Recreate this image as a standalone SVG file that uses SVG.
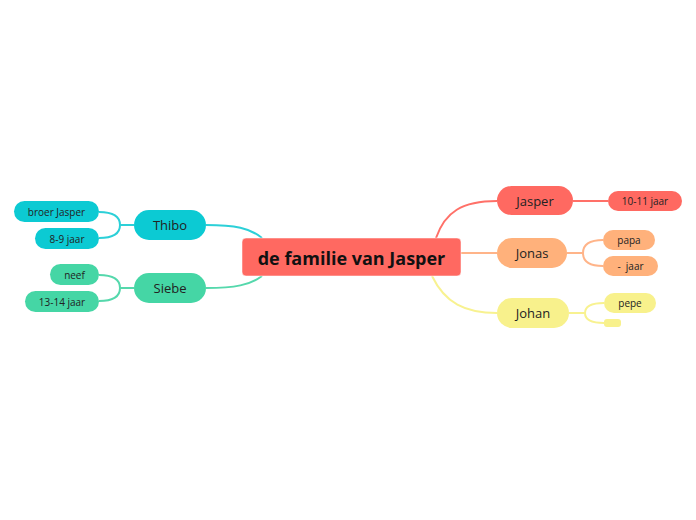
<svg xmlns="http://www.w3.org/2000/svg" width="696" height="520" viewBox="0 0 696 520">
<style>
text{font-family:"Open Sans","Liberation Sans",sans-serif;text-anchor:middle;dominant-baseline:central;fill:#222}
.main{font-size:18px;font-weight:bold;fill:#111}
.l1{font-size:13px}
.l2{font-size:10px}
.c path{fill:none;stroke-width:2}
.red{fill:#FF6961}.cyan{fill:#0CCAD3}.green{fill:#45D6A5}.orange{fill:#FFB17B}.yellow{fill:#F8F18C}
</style>
<rect width="696" height="520" fill="#fff"/>
<g class="c" id="connectors">
<path d="M206,225 C235,225 250,228 262,238" stroke="#2CD0D8"/>
<path d="M206,288 C235,288 250,285 262,276" stroke="#55D8AC"/>
<path d="M134,225 L120,225 M99,212 C114,212 120,217 120,225 C120,233 114,238 99,238" stroke="#2CD0D8" stroke-width="1.5"/>
<path d="M134,288 L120,288 M99,275 C114,275 120,280 120,288 C120,296 114,301 99,301" stroke="#55D8AC" stroke-width="1.5"/>
<path d="M436,238 C445,212 462,201 497,201" stroke="#FF7068"/>
<path d="M461,253 L497,253" stroke="#FFB489"/>
<path d="M432,276 C445,303 465,313 497,313" stroke="#F8F290"/>
<path d="M573,201 L608,201" stroke="#FF7068" stroke-width="1.5"/>
<path d="M567,253 L583,253 M603,240 C588,240 583,245 583,253 C583,261 588,266 603,266" stroke="#FFB489" stroke-width="1.5"/>
<path d="M569,313 L585,313 M604,303 C590,303 585,307 585,313 C585,319 590,323 604,323" stroke="#F8F290" stroke-width="1.5"/>
</g>
<g id="center"><rect x="242" y="238" width="219" height="38" rx="4" class="red" stroke="#fff" stroke-opacity="0.5"/><text x="351.5" y="257.5" class="main">de familie van Jasper</text></g>
<g id="thibo"><rect x="134" y="210" width="72" height="30" rx="15" class="cyan"/><text x="170" y="225" class="l1">Thibo</text></g>
<g id="broer"><rect x="14" y="201" width="85" height="21" rx="10.5" class="cyan"/><text x="56.5" y="211.5" class="l2">broer Jasper</text></g>
<g id="thibo-age"><rect x="35" y="228" width="64" height="21" rx="10.5" class="cyan"/><text x="67" y="238.5" class="l2">8-9 jaar</text></g>
<g id="siebe"><rect x="134" y="273" width="72" height="30" rx="15" class="green"/><text x="170" y="288" class="l1">Siebe</text></g>
<g id="neef"><rect x="50" y="264" width="49" height="21" rx="10.5" class="green"/><text x="74.5" y="274.5" class="l2">neef</text></g>
<g id="siebe-age"><rect x="25" y="291" width="74" height="21" rx="10.5" class="green"/><text x="62" y="301.5" class="l2">13-14 jaar</text></g>
<g id="jasper"><rect x="497" y="186" width="76" height="29" rx="14.5" class="red"/><text x="535" y="200.5" class="l1">Jasper</text></g>
<g id="jasper-age"><rect x="608" y="191" width="74" height="20" rx="10" class="red"/><text x="645" y="201" class="l2">10-11 jaar</text></g>
<g id="jonas"><rect x="497" y="238" width="70" height="30" rx="15" class="orange"/><text x="532" y="253" class="l1">Jonas</text></g>
<g id="papa"><rect x="603" y="230" width="52" height="20" rx="10" class="orange"/><text x="629" y="240" class="l2">papa</text></g>
<g id="jonas-age"><rect x="603" y="256" width="55" height="20" rx="10" class="orange"/><text x="630.5" y="266" class="l2" xml:space="preserve">-  jaar</text></g>
<g id="johan"><rect x="497" y="298" width="72" height="30" rx="15" class="yellow"/><text x="533" y="313" class="l1">Johan</text></g>
<g id="pepe"><rect x="604" y="293" width="52" height="20" rx="10" class="yellow"/><text x="630" y="303" class="l2">pepe</text></g>
<g id="empty"><rect x="604" y="319" width="17" height="8" rx="3" class="yellow"/></g>
</svg>
